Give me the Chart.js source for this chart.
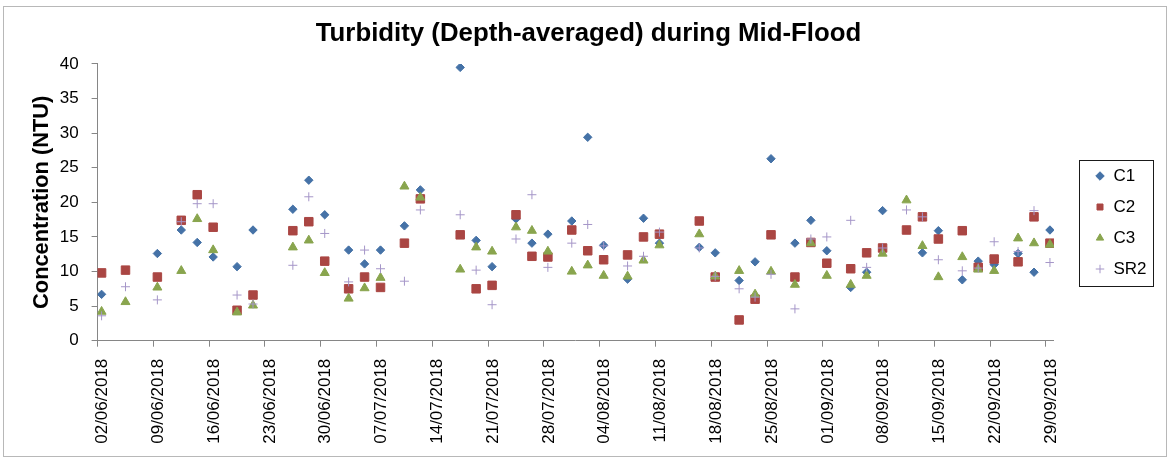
<!DOCTYPE html>
<html>
<head>
<meta charset="utf-8">
<script src="https://cdn.jsdelivr.net/npm/chart.js@4/dist/chart.umd.min.js"></script>
<style>
  html, body { margin: 0; padding: 0; background: #ffffff; }
  #wrap { width: 1171px; height: 461px; position: relative; }
</style>
</head>
<body>
<div id="wrap"><canvas id="chart" width="1171" height="461"></canvas></div>
<script>
// ---- data ----
const dates = [
  '02/06/2018','05/06/2018','09/06/2018','12/06/2018','14/06/2018','16/06/2018','19/06/2018','21/06/2018',
  '26/06/2018','28/06/2018','30/06/2018','03/07/2018','05/07/2018','07/07/2018','10/07/2018','12/07/2018',
  '17/07/2018','19/07/2018','21/07/2018','24/07/2018','26/07/2018','28/07/2018','31/07/2018','02/08/2018',
  '04/08/2018','07/08/2018','09/08/2018','11/08/2018','16/08/2018','18/08/2018','21/08/2018','23/08/2018',
  '25/08/2018','28/08/2018','30/08/2018','01/09/2018','04/09/2018','06/09/2018','08/09/2018','11/09/2018',
  '13/09/2018','15/09/2018','18/09/2018','20/09/2018','22/09/2018','25/09/2018','27/09/2018','29/09/2018'
];
const c1 = [6.7, null, 12.6, 16.0, 14.2, 12.1, 10.7, 16.0, 19.0, 23.2, 18.2, 13.1, 11.1, 13.1, 16.6, 21.8,
  39.5, 14.5, 10.7, 17.6, 14.1, 15.4, 17.3, 29.4, 13.8, 8.9, 17.7, 14.1, 13.5, 12.7, 8.7, 11.4,
  26.3, 14.1, 17.4, 13.0, 7.7, 9.9, 18.8, null, 12.7, 15.9, 8.8, 11.5, 11.0, 12.6, 9.9, 16.0];
const c2 = [9.8, 10.2, 9.2, 17.4, 21.1, 16.4, 4.4, 6.6, 15.9, 17.2, 11.5, 7.5, 9.2, 7.7, 14.1, 20.5,
  15.3, 7.5, 8.0, 18.2, 12.2, 12.1, 16.0, 13.0, 11.7, 12.4, 15.0, 15.4, 17.3, 9.2, 3.0, 6.0,
  15.3, 9.2, 14.2, 11.2, 10.4, 12.7, 13.4, 16.0, 17.9, 14.7, 15.9, 10.6, 11.8, 11.4, 17.9, 14.1];
const c3 = [4.2, 5.6, 7.7, 10.1, 17.6, 13.1, 4.1, 5.1, 13.5, 14.5, 9.8, 6.1, 7.6, 9.1, 22.3, 20.7,
  10.3, 13.5, 12.9, 16.4, 15.9, 12.9, 10.0, 10.9, 9.4, 9.3, 11.6, 13.8, 15.4, 9.3, 10.1, 6.7,
  10.0, 8.1, 14.1, 9.4, 8.1, 9.4, 12.6, 20.3, 13.7, 9.2, 12.1, 10.3, 10.1, 14.8, 14.1, 13.9];
const sr2 = [3.6, 7.8, 5.9, 17.2, 19.8, 19.8, 6.6, 5.3, 10.9, 20.8, 15.5, 8.5, 13.1, 10.4, 8.6, 18.9,
  18.2, 10.2, 5.2, 14.7, 21.1, 10.6, 14.1, 16.8, 13.7, 10.8, 12.2, 15.7, 13.4, 9.3, 7.5, 6.3,
  9.6, 4.6, 14.7, 15.0, 17.4, 10.6, 13.4, 18.9, 17.9, 11.7, 10.1, 10.5, 14.3, 12.9, 18.8, 11.3];
const tickLabels = ['02/06/2018','09/06/2018','16/06/2018','23/06/2018','30/06/2018','07/07/2018','14/07/2018',
  '21/07/2018','28/07/2018','04/08/2018','11/08/2018','18/08/2018','25/08/2018','01/09/2018','08/09/2018',
  '15/09/2018','22/09/2018','29/09/2018'];
const axisEndDate = '30/09/2018';
const seriesNames = ['C1', 'C2', 'C3', 'SR2'];

// ---- helpers ----
const FONT = '"Liberation Sans", Arial, sans-serif';
function toUTC(s) { const [d, m, y] = s.split('/').map(Number); return Date.UTC(y, m - 1, d); }
const origin = toUTC(tickLabels[0]);
function dayOf(s) { return Math.round((toUTC(s) - origin) / 86400000); }
// each sample is placed at the middle of its day (as on a date axis)
function pts(vals) { return dates.map((d, i) => ({ x: dayOf(d) + 0.5, y: vals[i] })); }

const tickDays = tickLabels.map(dayOf);

const frame = {
  id: 'frame',
  beforeDraw(chart) {
    const ctx = chart.ctx;
    ctx.save();
    ctx.fillStyle = '#ffffff';
    ctx.fillRect(0, 0, chart.width, chart.height);
    ctx.strokeStyle = '#b8b8b8';
    ctx.lineWidth = 1;
    ctx.strokeRect(3.5, 6.5, chart.width - 8, chart.height - 11);
    ctx.restore();
  }
};

const TITLE_CX = 588.5;
const LEG_MARKER_X = 1100, LEG_FIRST_TOP = 167.5, LEG_BOX_W = 10;
const legendFrame = {
  id: 'legendFrame',
  afterLayout(chart) {
    const tb = chart.titleBlock;
    if (tb) {
      const tdx = TITLE_CX - (tb.left + tb.right) / 2;
      tb.left += tdx; tb.right += tdx;
    }
    const lg = chart.legend;
    if (!lg || !lg.columnSizes || !lg.columnSizes.length) return;
    const pad = lg.options.labels.padding;
    const colH = lg.columnSizes[0].height;
    const itemsTop = (lg.top + pad + lg.bottom - colH) / 2;
    const dy = LEG_FIRST_TOP - itemsTop;
    const dx = LEG_MARKER_X - (lg.left + pad + LEG_BOX_W / 2);
    lg.left += dx; lg.right += dx; lg.top += dy; lg.bottom += dy;
  },
  afterDraw(chart) {
    const lg = chart.legend;
    if (!lg || !lg.columnSizes || !lg.columnSizes.length) return;
    const pad = lg.options.labels.padding;
    const colH = lg.columnSizes[0].height;
    const itemsTop = (lg.top + pad + lg.bottom - colH) / 2;
    const cx = lg.left + pad + LEG_BOX_W / 2;
    const ctx = chart.ctx;
    ctx.save();
    ctx.strokeStyle = '#1a1a1a';
    ctx.lineWidth = 1;
    ctx.strokeRect(Math.round(cx - 21) + 0.5, Math.round(itemsTop - 8) + 0.5, 74, Math.round(colH - pad + 16));
    ctx.restore();
  }
};

const styles = [
  { pointStyle: 'rectRot', color: '#4572A7', radius: 4.2, order: 3 },
  { pointStyle: 'rect', color: '#AA4643', radius: 6.0, order: 2 },
  { pointStyle: 'triangle', color: '#89A54E', radius: 5.2, order: 1 },
  { pointStyle: 'cross', color: '#A596C8', radius: 4.5, order: 0 }
];
const allSeries = [c1, c2, c3, sr2];

const datasets = allSeries.map((vals, k) => ({
  label: seriesNames[k],
  data: pts(vals),
  showLine: false,
  pointStyle: styles[k].pointStyle,
  pointRadius: styles[k].radius,
  pointHoverRadius: styles[k].radius,
  backgroundColor: styles[k].color,
  borderColor: styles[k].color,
  pointBorderWidth: 1,
  order: styles[k].order
}));

new Chart(document.getElementById('chart'), {
  type: 'scatter',
  data: { datasets },
  plugins: [frame, legendFrame],
  options: {
    responsive: false,
    animation: false,
    devicePixelRatio: 1,
    layout: { padding: { top: 6, left: 10, right: 41.5, bottom: 0 } },
    plugins: {
      tooltip: { enabled: false },
      title: {
        display: true,
        text: 'Turbidity (Depth-averaged) during Mid-Flood',
        color: '#000',
        font: { family: FONT, size: 25.8, weight: 'bold', lineHeight: 1.2 },
        padding: { top: 12.5, bottom: 14.5 }
      },
      legend: {
        display: true,
        position: 'right',
        align: 'center',
        labels: {
          usePointStyle: true,
          boxWidth: LEG_BOX_W,
          boxHeight: 6,
          padding: 14,
          color: '#000',
          font: { family: FONT, size: 17 },
          sort: (a, b) => a.datasetIndex - b.datasetIndex
        }
      }
    },
    scales: {
      x: {
        type: 'linear',
        min: 0,
        max: dayOf(axisEndDate),
        afterFit(s) { s.height = 120.3; },
        afterBuildTicks(s) { s.ticks = tickDays.map(v => ({ value: v })); },
        grid: { display: true, drawOnChartArea: false, drawTicks: true, tickLength: 6, color: '#868686' },
        border: { display: true, color: '#868686', width: 1 },
        ticks: {
          autoSkip: false,
          minRotation: 90,
          maxRotation: 90,
          padding: 12,
          labelOffset: 5,
          color: '#000',
          font: { family: FONT, size: 17 },
          callback(v) { const i = tickDays.indexOf(v); return i >= 0 ? tickLabels[i] : ''; }
        }
      },
      y: {
        min: 0,
        max: 40,
        afterFit(s) { s.width = 87.6; },
        grid: { display: true, drawOnChartArea: false, drawTicks: true, tickLength: 6, color: '#868686' },
        border: { display: true, color: '#868686', width: 1 },
        ticks: { stepSize: 5, padding: 13, color: '#000', font: { family: FONT, size: 17 } },
        title: {
          display: true,
          text: 'Concentration (NTU)',
          color: '#000',
          font: { family: FONT, size: 21.8, weight: 'bold', lineHeight: 1.2 },
          padding: { top: 18.5, bottom: 0 }
        }
      }
    }
  }
});
</script>
</body>
</html>
